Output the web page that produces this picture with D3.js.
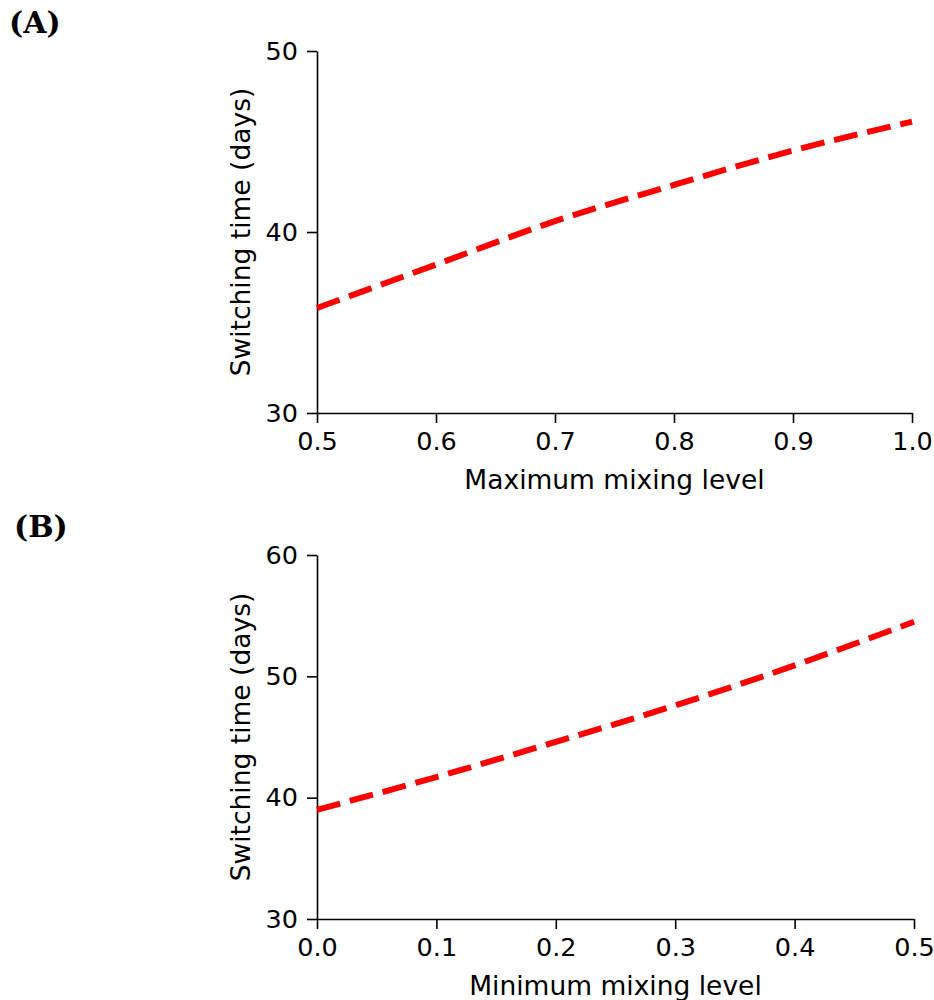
<!DOCTYPE html>
<html>
<head>
<meta charset="utf-8">
<script src="https://cdn.jsdelivr.net/npm/d3@7"></script>
<style>
  body { margin: 0; background: #fff; }
  svg { display: block; }
  .axis-label { font-family: "DejaVu Sans", sans-serif; font-size: 26.5px; fill: #000; }
  .panel-label { font-family: "DejaVu Serif", serif; font-weight: bold; font-size: 30px; fill: #000; }
</style>
</head>
<body>
<svg id="chart" width="934" height="1000"></svg>
<script>
// Panel A: switching time versus maximum mixing level
const maxMixing = [0.5, 0.6, 0.7, 0.8, 0.9, 1.0];
const switchTimeA = [35.8, 38.2, 40.6, 42.6, 44.5, 46.1];
const xTicksA = [0.5, 0.6, 0.7, 0.8, 0.9, 1.0];
const yTicksA = [30, 40, 50];

// Panel B: switching time versus minimum mixing level
const minMixing = [0.0, 0.1, 0.2, 0.3, 0.4, 0.5];
const switchTimeB = [39.0, 41.7, 44.6, 47.6, 50.9, 54.5];
const xTicksB = [0.0, 0.1, 0.2, 0.3, 0.4, 0.5];
const yTicksB = [30, 40, 50, 60];

const svg = d3.select("#chart");

function drawPanel(cfg) {
  const x = d3.scaleLinear().domain(cfg.xDomain).range([cfg.left, cfg.right]);
  const y = d3.scaleLinear().domain(cfg.yDomain).range([cfg.bottom, cfg.top]);
  const g = svg.append("g");

  const xAxis = g.append("g")
    .attr("transform", `translate(0,${cfg.bottom})`)
    .call(d3.axisBottom(x).tickValues(cfg.xTicks).tickFormat(d3.format(".1f"))
      .tickSize(10).tickPadding(9).tickSizeOuter(0));
  const yAxis = g.append("g")
    .attr("transform", `translate(${cfg.left},0)`)
    .call(d3.axisLeft(y).tickValues(cfg.yTicks).tickFormat(d3.format("d"))
      .tickSize(10).tickPadding(9).tickSizeOuter(0));
  [xAxis, yAxis].forEach(a => {
    a.attr("font-family", "DejaVu Sans, sans-serif").attr("font-size", 25.5);
    a.selectAll("path.domain").attr("stroke", "#000").attr("stroke-width", 1.6);
    a.selectAll(".tick line").attr("stroke", "#000").attr("stroke-width", 1.6);
    a.selectAll(".tick text").attr("fill", "#000");
  });

  const line = d3.line()
    .x((d, i) => x(cfg.xs[i]))
    .y(d => y(d))
    .curve(d3.curveMonotoneX);
  g.append("path")
    .datum(cfg.ys)
    .attr("fill", "none")
    .attr("stroke", "#ff0000")
    .attr("stroke-width", 6)
    .attr("stroke-dasharray", "24,10")
    .attr("d", line);

  g.append("text")
    .attr("class", "axis-label")
    .attr("text-anchor", "middle")
    .attr("x", (cfg.left + cfg.right) / 2)
    .attr("y", cfg.bottom + 76)
    .text(cfg.xLabel);
  g.append("text")
    .attr("class", "axis-label")
    .attr("text-anchor", "middle")
    .attr("transform", `translate(${cfg.left - 67},${(cfg.top + cfg.bottom) / 2}) rotate(-90)`)
    .text("Switching time (days)");
  g.append("text")
    .attr("class", "panel-label")
    .attr("x", cfg.labelX)
    .attr("y", cfg.labelY)
    .text(cfg.panel);
}

drawPanel({
  panel: "(A)", labelX: 9, labelY: 33,
  xs: maxMixing, ys: switchTimeA, xTicks: xTicksA, yTicks: yTicksA,
  xDomain: [0.5, 1.0], yDomain: [30, 50],
  left: 317, right: 912, top: 51, bottom: 413,
  xLabel: "Maximum mixing level"
});

drawPanel({
  panel: "(B)", labelX: 14, labelY: 537,
  xs: minMixing, ys: switchTimeB, xTicks: xTicksB, yTicks: yTicksB,
  xDomain: [0.0, 0.5], yDomain: [30, 60],
  left: 317, right: 914, top: 555, bottom: 919,
  xLabel: "Minimum mixing level"
});
</script>
</body>
</html>
